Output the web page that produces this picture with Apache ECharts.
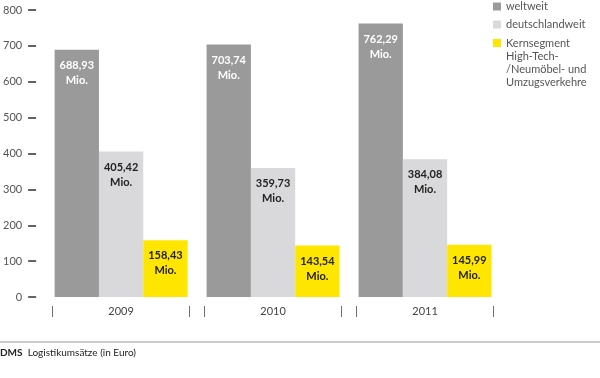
<!DOCTYPE html>
<html><head><meta charset="utf-8">
<script src="https://cdn.jsdelivr.net/npm/echarts@6/dist/echarts.min.js"></script>
<style>html,body{margin:0;padding:0;background:#fff}#c{width:600px;height:378px}</style>
</head><body><div id="c"></div>
<script>
var years = ['2009', '2010', '2011'];
var weltweit = [688.93, 703.74, 762.29];
var deutschlandweit = [405.42, 359.73, 384.08];
var kernsegment = [158.43, 143.54, 145.99];
var seriesNames = ['weltweit', 'deutschlandweit', 'Kernsegment High-Tech-/Neumöbel- und Umzugsverkehre'];
var legendLabels = ['weltweit', 'deutschlandweit', 'Kernsegment\nHigh-Tech-\n/Neumöbel- und\nUmzugsverkehre'];
var yTicks = [0, 100, 200, 300, 400, 500, 600, 700, 800];
var colors = ['#9a9a9a', '#d9d9db', '#ffe600'];
var labelColors = ['#ffffff', '#222222', '#222222'];
var FONT = 'Lato';

function fmt(v) { return v.toFixed(2).replace('.', ',') + '\nMio.'; }

var chart = echarts.init(document.getElementById('c'));
var dataSets = [weltweit, deutschlandweit, kernsegment];
var series = dataSets.map(function (d, i) {
  return {
    name: seriesNames[i],
    type: 'bar',
    data: d,
    barGap: '0%',
    barCategoryGap: '12.5%',
    itemStyle: { color: colors[i] },
    label: {
      show: true, position: 'insideTop', distance: 8,
      formatter: function (p) { return fmt(p.value); },
      color: labelColors[i], fontFamily: FONT, fontWeight: 'bold', fontSize: 11, lineHeight: 15
    }
  };
});

var legendText = { color: '#555', fontSize: 11, fontFamily: FONT, lineHeight: 13 };
function fmtLegend(n) { return legendLabels[seriesNames.indexOf(n)]; }

chart.setOption({
  animation: false,
  textStyle: { fontFamily: FONT },
  grid: { left: 44, right: 99, top: 10, bottom: 81 },
  legend: [{
    orient: 'vertical', left: 493, top: 0, padding: 0, itemWidth: 8, itemHeight: 8, itemGap: 5,
    icon: 'rect', formatter: fmtLegend, textStyle: legendText,
    data: [seriesNames[0], seriesNames[1]]
  }, {
    orient: 'vertical', left: 493, top: 36, padding: 0, itemWidth: 8, itemHeight: 53,
    icon: 'path://M0,0h0.01v0.01h-0.01zM0,3h8v8h-8zM0,52.99h0.01v0.01h-0.01z',
    formatter: fmtLegend, textStyle: legendText,
    data: [seriesNames[2]]
  }],
  xAxis: {
    type: 'category', data: years,
    axisLine: { show: false }, axisTick: { show: false },
    axisLabel: {
      margin: 9,
      formatter: function (v) { return '{l||}{y|' + v + '}{r||}'; },
      rich: {
        l: { width: 3, align: 'left', color: '#444', fontSize: 11, fontFamily: FONT },
        y: { width: 134, align: 'center', color: '#444', fontSize: 11, fontFamily: FONT },
        r: { width: 3, align: 'right', color: '#444', fontSize: 11, fontFamily: FONT }
      }
    }
  },
  yAxis: {
    type: 'value', min: yTicks[0], max: yTicks[yTicks.length - 1], interval: 100,
    offset: 9,
    splitLine: { show: false },
    axisLine: { show: false },
    axisTick: { show: true, length: 8, lineStyle: { color: '#333', width: 1.5 } },
    axisLabel: { margin: 14, color: '#555', fontSize: 11, fontFamily: FONT }
  },
  graphic: [
    { type: 'line', shape: { x1: 0, y1: 342, x2: 600, y2: 342 }, style: { stroke: '#999', lineWidth: 1 } },
    { type: 'text', left: 0, top: 348, style: {
      text: '{b|DMS}  Logistikumsätze (in Euro)', fill: '#222', font: '10px ' + FONT,
      rich: { b: { fontWeight: 'bold', fontSize: 10, fontFamily: FONT, fill: '#222' } }
    } }
  ],
  series: series
});
</script></body></html>
